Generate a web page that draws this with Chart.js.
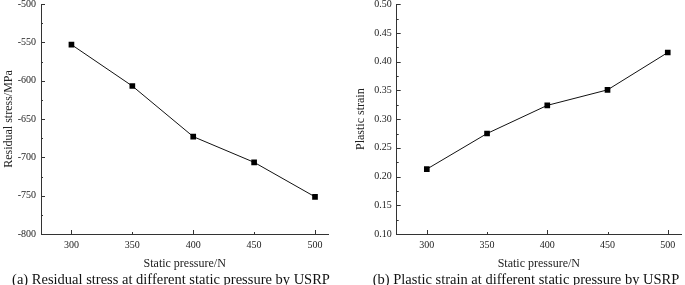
<!DOCTYPE html>
<html>
<head>
<meta charset="utf-8">
<script src="https://cdn.jsdelivr.net/npm/chart.js@4.4.0/dist/chart.umd.min.js"></script>
<style>
  body { margin: 0; background: #fff; }
  #wrap { position: relative; width: 685px; height: 285px; overflow: hidden; }
  .box { position: absolute; top: 0; height: 285px; }
  .cap { position: absolute; top: 270px; height: 18px; line-height: 18px; text-align: center;
         font-family: 'Liberation Serif', 'Times New Roman', serif; font-size: 14.5px; color: #111; white-space: nowrap; }
</style>
</head>
<body>
<div id="wrap">
  <div class="box" style="left:0;width:342px"><canvas id="stressChart" width="342" height="285"></canvas></div>
  <div class="box" style="left:342px;width:343px"><canvas id="strainChart" width="343" height="285"></canvas></div>
  <div class="cap" style="left:1px;width:340px">(a) Residual stress at different static pressure by USRP</div>
  <div class="cap" style="left:356px;width:340px">(b) Plastic strain at different static pressure by USRP</div>
</div>
<script>
const pressure = [300, 350, 400, 450, 500];
const residualStress = [-553, -607, -673, -706.5, -751.5];
const plasticStrain = [0.213, 0.275, 0.324, 0.351, 0.416];
const pressureTicks = [300, 350, 400, 450, 500];
const stressTicks = [-800, -750, -700, -650, -600, -550, -500];
const strainTicks = [0.10, 0.15, 0.20, 0.25, 0.30, 0.35, 0.40, 0.45, 0.50];

const serif = "'Liberation Serif', 'Times New Roman', serif";
const ink = '#222';

// Origin-style ticks pointing into the plot, majors plus minors
const inwardTicks = {
  id: 'inwardTicks',
  afterDraw(chart, args, opts) {
    const ctx = chart.ctx, xs = chart.scales.x, ys = chart.scales.y, a = chart.chartArea;
    ctx.save();
    ctx.strokeStyle = '#333';
    ctx.lineWidth = 1;
    ctx.beginPath();
    const xt = (v, len) => {
      const px = Math.round(xs.getPixelForValue(v)) + 0.5;
      ctx.moveTo(px, a.bottom); ctx.lineTo(px, a.bottom - len);
    };
    const yt = (v, len) => {
      const py = Math.round(ys.getPixelForValue(v)) + 0.5;
      ctx.moveTo(a.left, py); ctx.lineTo(a.left + len, py);
    };
    opts.xMajor.forEach(v => xt(v, 4));
    opts.xMinor.forEach(v => xt(v, 2));
    opts.yMajor.forEach(v => yt(v, 4));
    opts.yMinor.forEach(v => yt(v, 2));
    ctx.stroke();
    ctx.restore();
  }
};

function makeChart(id, values, yTicks, yTitle, dec, box) {
  const step = yTicks[1] - yTicks[0];
  const yMinor = yTicks.slice(0, -1).map(v => v + step / 2);
  return new Chart(document.getElementById(id), {
    type: 'line',
    data: {
      datasets: [{
        data: pressure.map((p, i) => ({ x: p, y: values[i] })),
        borderColor: '#111',
        borderWidth: 1,
        backgroundColor: '#000',
        pointStyle: 'rect',
        pointRadius: 4,
        pointBorderWidth: 0,
        tension: 0
      }]
    },
    options: {
      responsive: false,
      animation: false,
      layout: { padding: { top: box.top, right: box.right, left: 0, bottom: 14 } },
      plugins: {
        legend: { display: false },
        tooltip: { enabled: false },
        inwardTicks: {
          xMajor: [300, 400, 500],
          xMinor: [350, 450],
          yMajor: yTicks,
          yMinor: yMinor
        }
      },
      scales: {
        x: {
          type: 'linear',
          min: 275,
          max: 511,
          afterBuildTicks: s => { s.ticks = pressureTicks.map(v => ({ value: v })); },
          afterFit: s => { s.height = box.xh; s.paddingLeft = 0; s.paddingRight = 0; },
          grid: { display: true, drawOnChartArea: false, drawTicks: false },
          border: { display: true, color: '#333', width: 1 },
          ticks: { color: ink, padding: 5, font: { family: serif, size: 10 }, maxRotation: 0 },
          title: { display: true, text: 'Static pressure/N', color: ink, padding: { top: 0, bottom: 0 },
                   font: { family: serif, size: 12 } }
        },
        y: {
          min: yTicks[0],
          max: yTicks[yTicks.length - 1],
          afterBuildTicks: s => { s.ticks = yTicks.map(v => ({ value: v })); },
          afterFit: s => { s.width = box.yw; s.paddingTop = 0; s.paddingBottom = 0; },
          grid: { display: true, drawOnChartArea: false, drawTicks: false },
          border: { display: true, color: '#333', width: 1 },
          ticks: { color: ink, padding: 5, font: { family: serif, size: 10 },
                   callback: v => dec ? Number(v).toFixed(dec) : v },
          title: { display: true, text: yTitle, color: ink, padding: { top: box.tp, bottom: 0 },
                   font: { family: serif, size: 12 } }
        }
      }
    },
    plugins: [inwardTicks]
  });
}

makeChart('stressChart', residualStress, stressTicks, 'Residual stress/MPa', 0,
  { top: 4, right: 13.6, yw: 41, xh: 37, tp: 2 });
makeChart('strainChart', plasticStrain, strainTicks, 'Plastic strain', 2,
  { top: 4.3, right: 2.3, yw: 54.7, xh: 37, tp: 11.4 });
</script>
</body>
</html>
